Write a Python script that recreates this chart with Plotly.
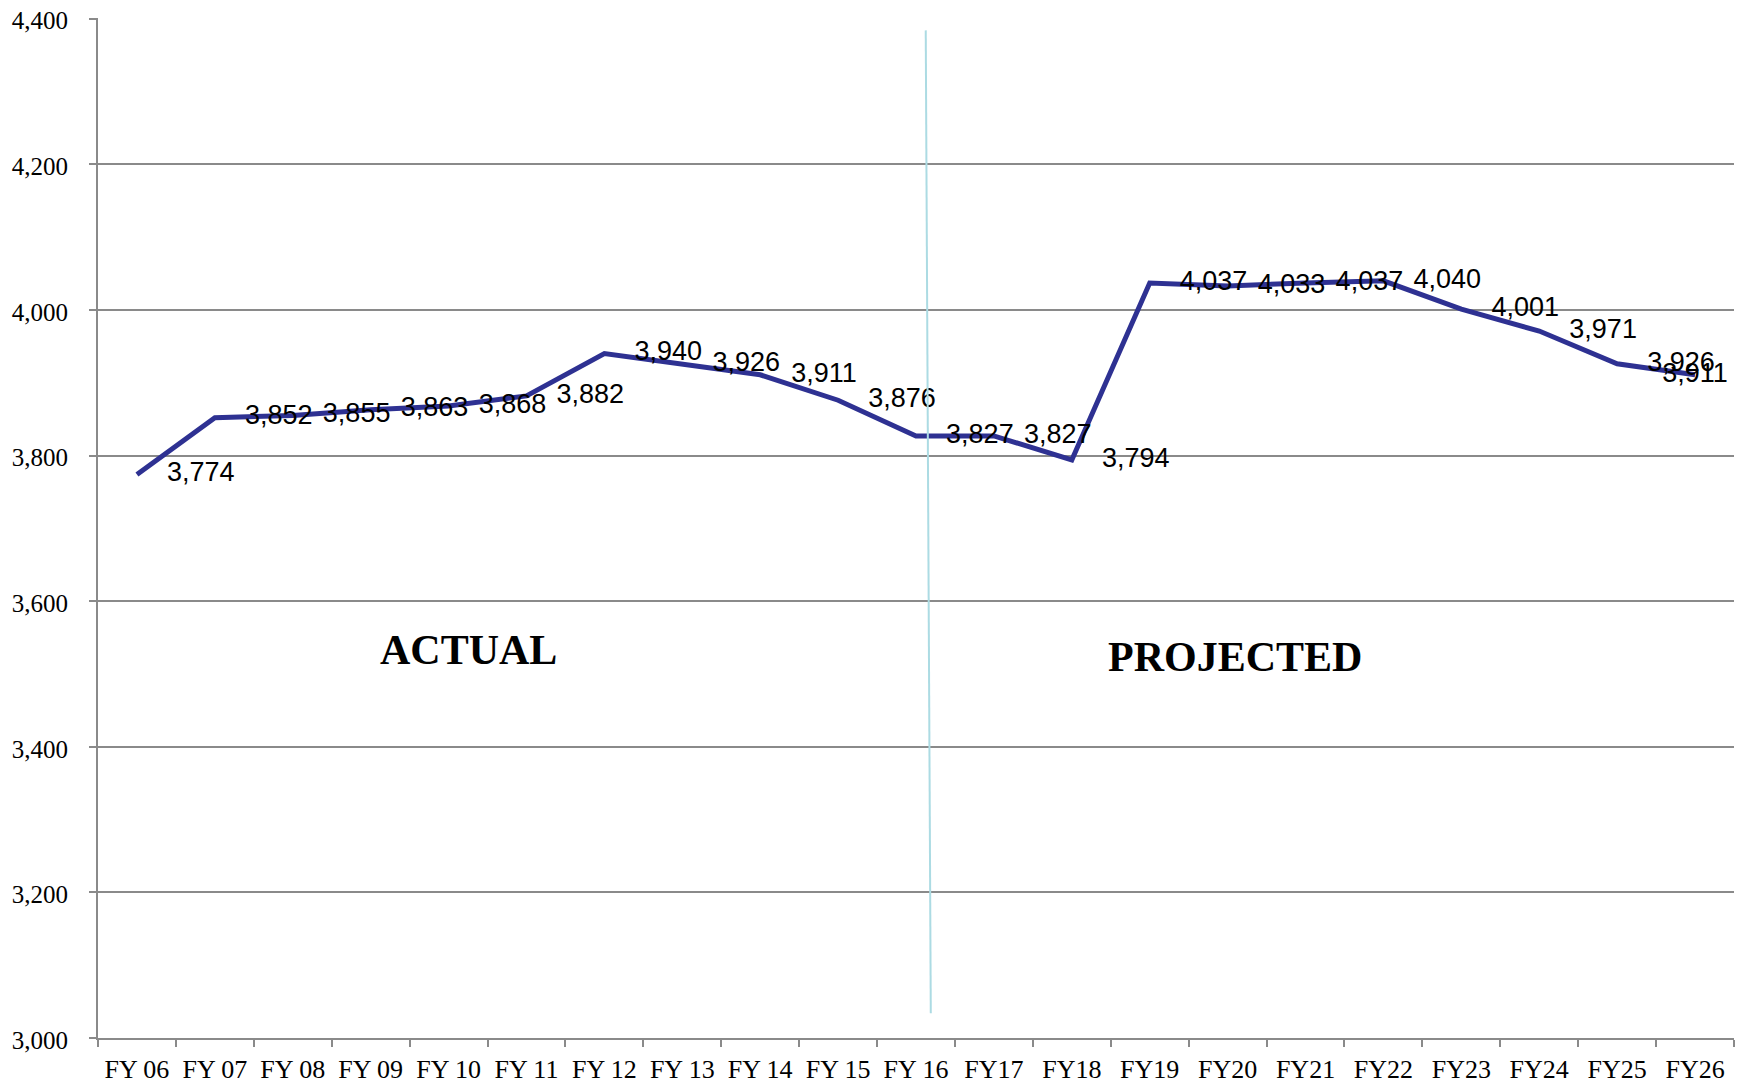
import plotly.graph_objects as go

categories = ["FY 06", "FY 07", "FY 08", "FY 09", "FY 10", "FY 11", "FY 12", "FY 13",
              "FY 14", "FY 15", "FY 16", "FY17", "FY18", "FY19", "FY20", "FY21",
              "FY22", "FY23", "FY24", "FY25", "FY26"]
values = [3774, 3852, 3855, 3863, 3868, 3882, 3940, 3926, 3911, 3876, 3827,
          3827, 3794, 4037, 4033, 4037, 4040, 4001, 3971, 3926, 3911]
y_ticks = [3000, 3200, 3400, 3600, 3800, 4000, 4200, 4400]
y_tick_labels = ["3,000", "3,200", "3,400", "3,600", "3,800", "4,000", "4,200", "4,400"]

idx = list(range(len(categories)))
LABEL_SHIFT = 0.82
label_x = [min(i + LABEL_SHIFT, len(categories) - 1) for i in idx]
label_text = [f"{v:,}" for v in values]

LINE_COLOR = "#2e3192"
GRID = "#8a8a8a"

fig = go.Figure()
fig.add_trace(go.Scatter(x=idx, y=values, mode="lines",
                         line=dict(color=LINE_COLOR, width=5), hoverinfo="skip"))
fig.add_trace(go.Scatter(x=label_x, y=values, mode="text", text=label_text,
                         textposition="middle center", cliponaxis=False,
                         textfont=dict(family="Liberation Sans, Arial, sans-serif", size=27, color="#000")))

# divider between actual and projected
fig.add_shape(type="line", xref="x", yref="y", x0=10.125, y0=4384, x1=10.19, y1=3034,
              line=dict(color="#acdbe3", width=2))

serif = "Liberation Serif, Times New Roman, serif"
fig.add_annotation(x=4.25, y=3533, xref="x", yref="y", text="<b>ACTUAL</b>", showarrow=False,
                   font=dict(family=serif, size=42, color="#000"))
fig.add_annotation(x=14.1, y=3524, xref="x", yref="y", text="<b>PROJECTED</b>", showarrow=False,
                   font=dict(family=serif, size=42, color="#000"))

# page has an 8px body margin, so the figure is sized to fit the window
fig.update_layout(
    width=1740, height=1076,
    margin=dict(l=90, r=14, t=10, b=46, autoexpand=False),
    paper_bgcolor="white", plot_bgcolor="white",
    showlegend=False,
    xaxis=dict(
        automargin=False,
        range=[-0.5, len(categories) - 0.5],
        tickmode="array", tickvals=idx, ticktext=categories,
        ticks="outside", ticklen=7, tickcolor="rgba(0,0,0,0)",
        ticklabelstandoff=0,
        showgrid=False, zeroline=False,
        showline=True, linecolor=GRID, linewidth=2,
        tickfont=dict(family=serif, size=26, color="#000"),
        minor=dict(tick0=-0.5, dtick=1, ticks="outside", ticklen=7, tickwidth=2,
                   tickcolor=GRID, showgrid=False),
    ),
    yaxis=dict(
        automargin=False,
        range=[3000, 4401],
        tickmode="array", tickvals=y_ticks, ticktext=y_tick_labels,
        ticks="outside", ticklen=7, tickwidth=2, tickcolor=GRID,
        ticklabelstandoff=16, ticklabelshift=2, ticklabeloverflow="allow",
        showgrid=True, gridcolor=GRID, gridwidth=2,
        zeroline=False,
        showline=True, linecolor=GRID, linewidth=2,
        tickfont=dict(family=serif, size=25, color="#000"),
    ),
)

fig.write_html("out.html")
